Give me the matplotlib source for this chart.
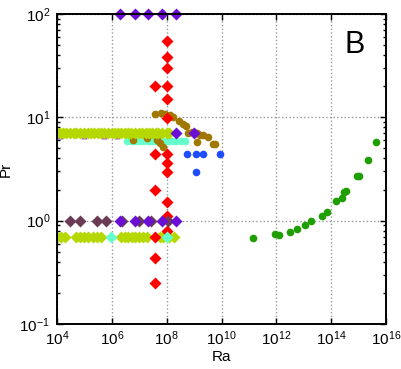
import matplotlib
matplotlib.use('Agg')
from matplotlib import pyplot as plt
from matplotlib import ticker
import numpy as np

plt.rcParams['font.family'] = ['Liberation Sans', 'DejaVu Sans']
plt.rcParams['mathtext.fontset'] = 'custom'
plt.rcParams['mathtext.rm'] = 'Liberation Sans'
plt.rcParams['mathtext.it'] = 'Liberation Sans:italic'
plt.rcParams['mathtext.bf'] = 'Liberation Sans:bold'
plt.rcParams['axes.unicode_minus'] = False

# --- data (Ra, Pr) ---
# yellow-green diamonds, Pr ~ 7
ra_yg7 = [1e4, 1.3e4, 1.7e4, 2.2e4, 3e4, 4e4, 5e4, 7e4, 1e5, 1.3e5, 1.7e5,
          2.2e5, 3e5, 4e5, 5e5, 7e5, 1e6, 1.3e6, 1.7e6, 2.2e6, 3e6, 4e6,
          5e6, 7e6, 1e7, 1.3e7, 1.7e7, 2.2e7, 3e7, 4e7, 5e7, 7e7, 1e8, 1.2e8]
pr_yg7 = [7.0] * len(ra_yg7)
# yellow-green diamonds, Pr ~ 0.7
ra_yg07 = [1e4, 1.4e4, 2e4, 5e4, 7e4, 1e5, 1.4e5, 2e5, 2.8e5, 4e5,
           2.1e6, 3e6, 4e6, 5.5e6, 7e6, 1e7, 1.4e7, 1.9e7,
           5.5e7, 7.5e7, 1.2e8, 1.8e8]
pr_yg07 = [0.7] * len(ra_yg07)

# purple triangles hidden under the Pr=7 row
ra_tri = [1.3e4, 1e5, 5e5, 1.5e6, 5e6, 2e7, 6e7]
pr_tri = [6.6] * len(ra_tri)

# purple diamonds
ra_pu = [2e6, 7e6, 2e7, 7e7, 2.1e8,
         2e6, 7e6, 2e7, 7e7, 2.1e8,
         2.1e8, 1e9]
pr_pu = [100, 100, 100, 100, 100,
         1, 1, 1, 1, 1,
         7, 7]

# mauve diamonds, Pr = 1
ra_mv = [3e4, 7e4, 2.8e5, 6e5, 2.3e6, 1e7, 2.6e7, 1.1e8]
pr_mv = [1.0] * len(ra_mv)

# red diamonds
ra_red = [1e8, 1e8, 1e8, 3.9e7, 1e8, 1e8, 1e8, 3.9e7, 1e8, 1e8, 1e8,
          3.9e7, 1e8, 1e8, 1e8, 3.9e7, 3.9e7, 3.9e7]
pr_red = [55, 38, 30, 20, 20, 15, 9.8, 4.4, 4.4, 3.6, 2.95,
          2.0, 1.5, 1.1, 0.8, 0.7, 0.44, 0.25]

# aquamarine circles, Pr ~ 6
ra_aq = [3.5e6, 5e6, 7e6, 1e7, 1.4e7, 2e7, 2.8e7, 4e7, 5.6e7, 8e7,
         1.1e8, 1.6e8, 2.2e8, 3.2e8, 4.5e8]
pr_aq = [5.9] * len(ra_aq)
# aquamarine diamonds, Pr = 0.7
ra_aqd = [9e5, 1e8]
pr_aqd = [0.7, 0.7]

# olive circles
ra_ol = [3.8e7, 6e7, 8.7e7, 1.3e8, 1.75e8, 2.7e8, 3.9e8, 5.1e8,
         6.2e8, 8.1e8, 1.25e9, 1.6e9, 1.26e9, 2.2e9, 3.3e9, 5.9e9, 5e9,
         6e6, 1.9e7, 4.4e7, 5.8e7, 7.6e7]
pr_ol = [10.7, 11, 10.7, 10.5, 10, 9.3, 8.7, 8.2,
         7.1, 7.2, 7.0, 6.8, 5.8, 6.75, 6.5, 5.5, 5.5,
         6.0, 6.3, 6.0, 5.6, 5.2]

# blue circles
ra_bl = [5.4e8, 1.2e9, 2.2e9, 9e9, 1.2e9]
pr_bl = [4.4, 4.4, 4.4, 4.4, 2.95]

# green circles
ra_gr = [1.45e11, 9e11, 1.3e12, 3.2e12, 5.9e12, 1.1e13, 1.9e13, 4.7e13,
         6.9e13, 1.5e14, 2.4e14, 3e14, 3.5e14, 9e14, 1.07e15, 2.2e15, 4.4e15]
pr_gr = [0.68, 0.74, 0.72, 0.78, 0.83, 0.91, 1.0, 1.11,
         1.22, 1.54, 1.66, 1.9, 1.94, 2.7, 2.7, 3.9, 5.8]

# --- figure ---
fig = plt.figure(figsize=(4.02, 3.69), dpi=100)
ax = fig.add_axes([0.142, 0.122, 0.818, 0.840])

ax.plot(ra_tri, pr_tri, '^', color='#a64df0', ms=5, mec='none')
ax.plot(ra_aq, pr_aq, 'o', color='#66ffcc', ms=5.5, mec='none')
ax.plot(ra_ol, pr_ol, 'o', color='#a07800', ms=5.5, mec='none')
ax.plot(ra_yg7, pr_yg7, 'D', color='#b5d900', ms=6.5, mec='none')
ax.plot(ra_yg07, pr_yg07, 'D', color='#b5d900', ms=6.5, mec='none')
ax.plot(ra_red, pr_red, 'D', color='#ff0000', ms=6, mec='none')
ax.plot(ra_aqd, pr_aqd, 'D', color='#66ffcc', ms=6.5, mec='none')
ax.plot(ra_mv, pr_mv, 'D', color='#6b3b55', ms=6.5, mec='none')
ax.plot(ra_pu, pr_pu, 'D', color='#6a0dd5', ms=6.5, mec='none', clip_on=False)
ax.plot(ra_bl, pr_bl, 'o', color='#1e4dff', ms=5.5, mec='none')
ax.plot(ra_gr, pr_gr, 'o', color='#1e9e00', ms=5.5, mec='none')

ax.set_xscale('log')
ax.set_yscale('log')
ax.set_xlim(1e4, 1e16)
ax.set_ylim(1e-1, 1e2)

ax.xaxis.set_major_locator(ticker.LogLocator(base=100.0))
ax.xaxis.set_minor_locator(ticker.NullLocator())
ax.yaxis.set_major_locator(ticker.LogLocator(base=10.0))
ax.yaxis.set_minor_locator(ticker.LogLocator(base=10.0, subs=np.arange(2, 10)))
ax.yaxis.set_minor_formatter(ticker.NullFormatter())

ax.tick_params(which='both', direction='in', top=True, right=True, labelsize=11)
ax.tick_params(which='major', length=4, width=1)
ax.tick_params(which='minor', length=2.5, width=1)
ax.tick_params(axis='x', pad=4)
ax.tick_params(axis='y', pad=5)
for s in ax.spines.values():
    s.set_linewidth(1.4)

ax.grid(True, which='major', linestyle=':', color='#999999', linewidth=1)
ax.set_axisbelow(True)

ax.set_xlabel('Ra', fontsize=11, labelpad=1)
ax.set_ylabel('Pr', fontsize=11, labelpad=5)
ax.text(0.905, 0.90, 'B', transform=ax.transAxes, fontsize=22,
        ha='center', va='center')

fig.savefig('out.png', dpi=100)
